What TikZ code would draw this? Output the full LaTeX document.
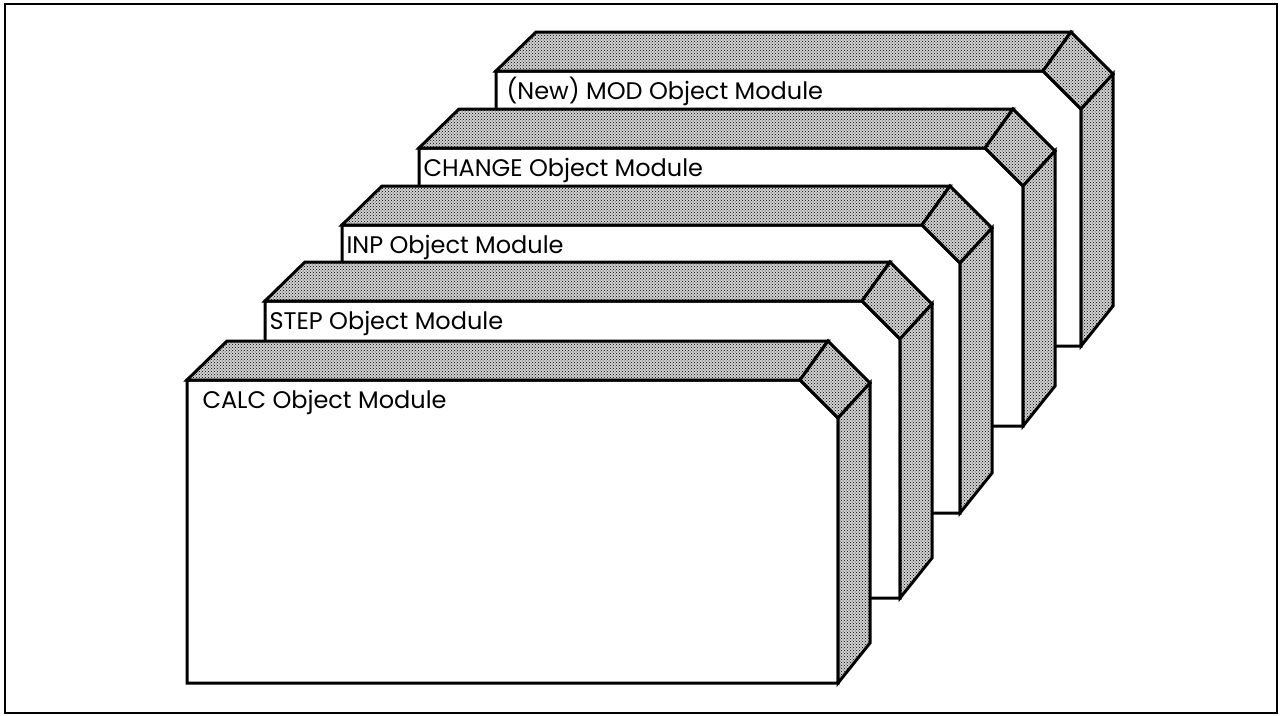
\documentclass[tikz,border=0pt]{standalone}
\usepackage{fontspec}
\setmainfont{Poppins}
\usetikzlibrary{patterns}
\tikzset{
  shadeface/.style={preaction={fill=black!18}, pattern=crosshatch dots, pattern color=black},
  modlabel/.style={anchor=base west, inner sep=0pt, font=\fontsize{24}{28}\selectfont}
}
\begin{document}
\begin{tikzpicture}[x=1pt, y=-1pt, line width=3pt, line join=miter]
  \useasboundingbox (0,0) rectangle (1281,715);
  % outer frame
  \draw[line width=2pt] (5,4) rectangle (1277,713);
  % object modules, drawn from the back to the front
  \foreach \lx/\ty/\rx/\by/\off/\nm/\txt in {
      496/71/1081/346/9/mod/{(New) MOD Object Module},
      419/148/1023/426/3/change/{CHANGE Object Module},
      342/225/960/513/3/inp/{INP Object Module},
      265/301/900/598/3/step/{STEP Object Module},
      187/380/838/683/14/calc/{CALC Object Module}} {
    % front face
    \draw[fill=white] (\lx,\ty) -- ({\rx-38},\ty) -- (\rx,{\ty+38}) -- (\rx,\by) -- (\lx,\by) -- cycle;
    % top, corner and side faces
    \draw[shadeface] (\lx,\ty) -- ({\lx+40},{\ty-39}) -- ({\rx-10},{\ty-39}) -- ({\rx-38},\ty) -- cycle;
    \draw[shadeface] ({\rx-38},\ty) -- ({\rx-10},{\ty-39}) -- ({\rx+32},{\ty+3}) -- (\rx,{\ty+38}) -- cycle;
    \draw[shadeface] (\rx,{\ty+38}) -- ({\rx+32},{\ty+3}) -- ({\rx+32},{\by-40}) -- (\rx,\by) -- cycle;
    \node[modlabel] (\nm) at ({\lx+\off},{\ty+28}) {\txt};
  }
\end{tikzpicture}
\end{document}
